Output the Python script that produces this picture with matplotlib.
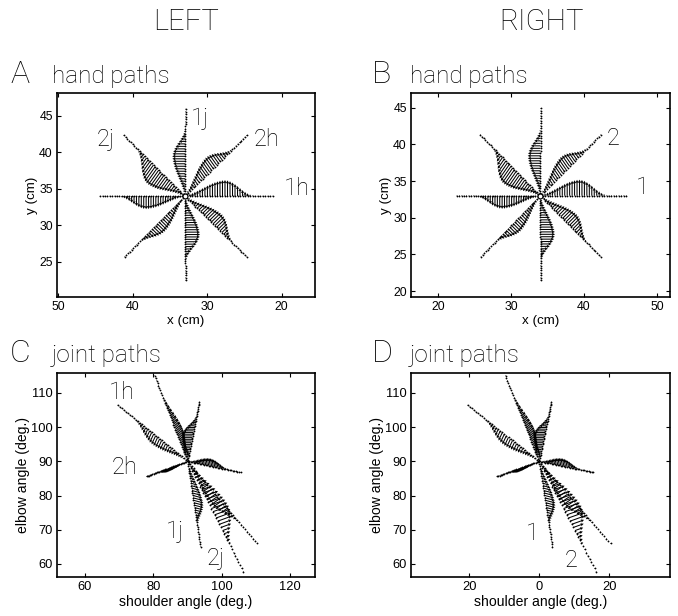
import numpy as np
import matplotlib.pyplot as plt

# hand space: 8 reaches, end point offsets (cm) from the start, as seen on screen
hand_end_dx = [11.8, 8.3, 0.1, -8.2, -11.4, -8.1, 0.1, 8.3]
hand_end_dy = [0.0, 8.3, 11.9, 8.3, 0.0, -8.3, -11.5, -8.3]
hand_dev_angle = [90, 125, 180, 235, 270, 315, 0, 45]      # deg, direction of the deviation
hand_dev_peak = [2.2, 1.8, 1.75, 2.5, 1.8, 1.5, 2.0, 1.8]  # cm

# joint space: end point offsets (deg) from the start posture
joint_end_dx = [-9.6, -20.4, -12.0, 3.8, 16.3, 20.4, 15.5, 3.5]
joint_end_dy = [25.0, 16.4, -4.4, -24.9, -32.2, -24.0, -3.2, 17.3]
joint_dev_angle = [-35, 245, 250, -15, 20, 215, 100, 180]
joint_dev_peak = [3.8, 2.8, 1.3, 3.0, 5.0, 3.0, 2.4, 3.3]

# deviation along a movement, fraction of its peak (start -> end)
dev_profile = [0.05, 0.1, 0.15, 0.2, 0.27, 0.34, 0.42, 0.5, 0.58, 0.66, 0.74, 0.81,
               0.87, 0.92, 0.96, 0.99, 1.0, 0.98, 0.93, 0.85, 0.75, 0.63, 0.5, 0.38,
               0.27, 0.18, 0.11, 0.06, 0.03, 0.01, 0, 0, 0, 0, 0, 0]

left_hand_start = (33, 34)
right_hand_start = (34, 33)
left_joint_start = (90, 90)
right_joint_start = (0, 90)

big_font = ['Roboto', 'DejaVu Sans']
small_font = ['Liberation Sans', 'DejaVu Sans']


def draw_paths(ax, start, ends_dx, ends_dy, angles, peaks, xsign=1):
    x0, y0 = start
    frac = np.linspace(0, 1, len(dev_profile))
    prof = np.array(dev_profile)
    for dx, dy, ang, pk in zip(ends_dx, ends_dy, angles, peaks):
        px = x0 + xsign * dx * frac
        py = y0 + dy * frac
        u = xsign * pk * prof * np.cos(np.radians(ang))
        v = pk * prof * np.sin(np.radians(ang))
        ax.plot(px, py, 'o', color='k', ms=1.3, mew=0, ls='none')
        ax.quiver(px, py, u, v, angles='xy', scale_units='xy', scale=1,
                  width=0.004, headwidth=3.2, headlength=3.0, headaxislength=2.6,
                  minlength=0.8, color='k')


def style_axes(ax, xlab, ylab, size):
    ax.tick_params(direction='in', top=True, right=True, length=3, width=0.8,
                   labelsize=size, pad=3)
    for lab in ax.get_xticklabels() + ax.get_yticklabels():
        lab.set_family(small_font)
    for s in ax.spines.values():
        s.set_linewidth(1.2)
    ax.set_xlabel(xlab, fontsize=size + 0.8, family=small_font, labelpad=1)
    ax.set_ylabel(ylab, fontsize=size + 0.8, family=small_font, labelpad=1)


fig = plt.figure(figsize=(6.78, 6.16), dpi=100)
W, H = 678, 616


def add_axes(left, top, right, bottom):
    return fig.add_axes([left / W, 1 - bottom / H, (right - left) / W, (bottom - top) / H])


axA = add_axes(57, 93, 315, 297)
axB = add_axes(411, 93, 670, 297)
axC = add_axes(57, 373, 315, 577)
axD = add_axes(411, 373, 670, 577)

# A: left arm, hand paths (x axis runs right to left)
draw_paths(axA, left_hand_start, hand_end_dx, hand_end_dy, hand_dev_angle, hand_dev_peak, xsign=-1)
axA.plot(*left_hand_start, 'o', mfc='white', mec='k', ms=3.5, mew=0.8)
axA.set_xlim(50.2, 15.5)
axA.set_ylim(20.2, 48.1)
axA.set_xticks([50, 40, 30, 20])
axA.set_yticks([25, 30, 35, 40, 45])
style_axes(axA, 'x (cm)', 'y (cm)', 8.8)

# B: right arm, hand paths
draw_paths(axB, right_hand_start, hand_end_dx, hand_end_dy, hand_dev_angle, hand_dev_peak)
axB.plot(*right_hand_start, 'o', mfc='white', mec='k', ms=3.5, mew=0.8)
axB.set_xlim(16.3, 51.8)
axB.set_ylim(19.2, 47.0)
axB.set_xticks([20, 30, 40, 50])
axB.set_yticks([20, 25, 30, 35, 40, 45])
style_axes(axB, 'x (cm)', 'y (cm)', 8.8)

# C: left arm, joint paths
draw_paths(axC, left_joint_start, joint_end_dx, joint_end_dy, joint_dev_angle, joint_dev_peak)
axC.set_xlim(51.8, 127.3)
axC.set_ylim(56.2, 115.8)
axC.set_xticks([60, 80, 100, 120])
axC.set_yticks([60, 70, 80, 90, 100, 110])
style_axes(axC, 'shoulder angle (deg.)', 'elbow angle (deg.)', 9.3)

# D: right arm, joint paths
draw_paths(axD, right_joint_start, joint_end_dx, joint_end_dy, joint_dev_angle, joint_dev_peak)
axD.set_xlim(-36.6, 37.4)
axD.set_ylim(56.2, 115.8)
axD.set_xticks([-20, 0, 20])
axD.set_xticklabels(['20', '0', '20'])
axD.set_yticks([60, 70, 80, 90, 100, 110])
style_axes(axD, 'shoulder angle (deg.)', 'elbow angle (deg.)', 9.3)

# path labels
lab_kw = dict(fontsize=17, family=big_font, fontweight='light', ha='center', va='center',
              color='k')
for txt, x, y in [('1j', 31.0, 44.6), ('2h', 22.0, 41.8), ('1h', 17.9, 35.1), ('2j', 43.6, 41.8)]:
    axA.text(x, y, txt, **lab_kw)
for txt, x, y in [('2', 44.0, 40.8), ('1', 48.0, 34.1)]:
    axB.text(x, y, txt, **lab_kw)
for txt, x, y in [('1h', 70.7, 110.0), ('2h', 71.6, 88.2), ('1j', 86.4, 69.5), ('2j', 98.3, 61.5)]:
    axC.text(x, y, txt, **lab_kw)
for txt, x, y in [('1', -1.8, 68.8), ('2', 9.0, 61.0)]:
    axD.text(x, y, txt, **lab_kw)

# column headers and panel titles
head_kw = dict(fontsize=21, family=big_font, fontweight='light', ha='center', va='center',
               color='k')
fig.text(186 / W, 1 - 22 / H, 'LEFT', **head_kw)
fig.text(541 / W, 1 - 22 / H, 'RIGHT', **head_kw)
for letter, title, x_let, x_tit, base in [('A', 'hand paths', 10, 52, 83),
                                          ('B', 'hand paths', 372, 410, 83),
                                          ('C', 'joint paths', 10, 52, 362),
                                          ('D', 'joint paths', 372, 410, 362)]:
    fig.text(x_let / W, 1 - base / H, letter, fontsize=23, family=big_font,
             fontweight='light', ha='left', va='baseline', color='k')
    fig.text(x_tit / W, 1 - base / H, title, fontsize=17.5, family=big_font,
             fontweight='light', ha='left', va='baseline', color='k')

fig.savefig('out.png', dpi=100)
